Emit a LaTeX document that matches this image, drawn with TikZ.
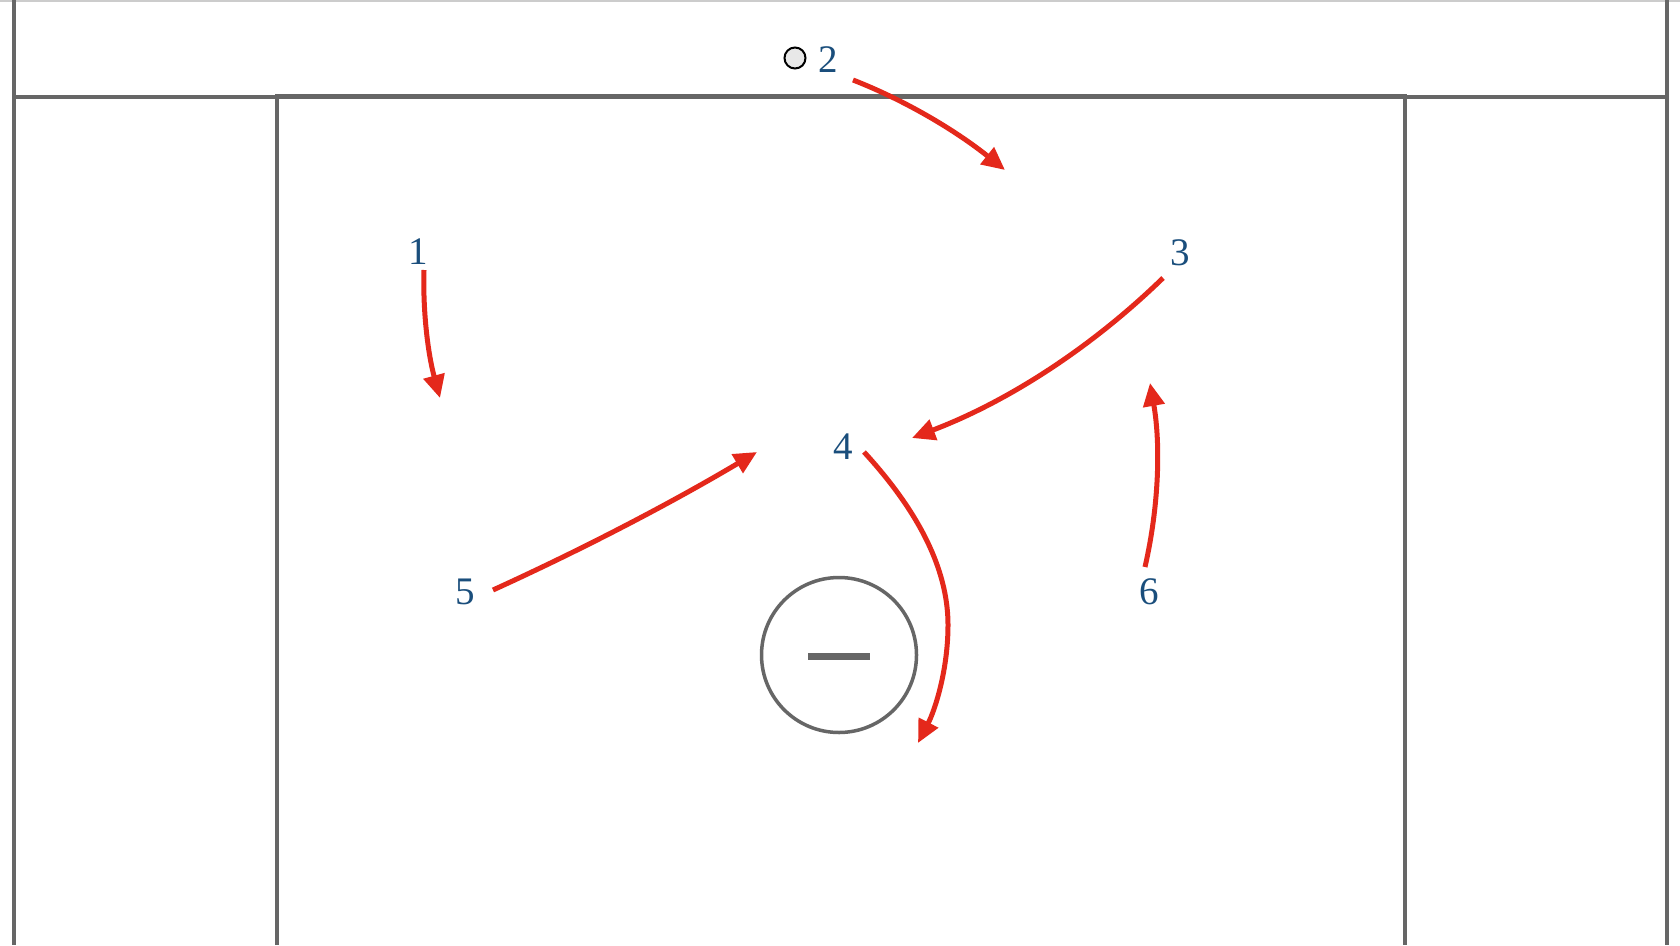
\documentclass[tikz,border=0pt]{standalone}
\usepackage{fontspec}
\setmainfont{Liberation Serif}
\usetikzlibrary{arrows.meta}
\definecolor{lab}{HTML}{1A4E7C}
\definecolor{arr}{HTML}{E4281B}
\definecolor{fld}{HTML}{666666}
\begin{document}
\begin{tikzpicture}[x=1pt,y=-1pt,
  fieldline/.style={draw=fld, line width=4pt},
  run/.style={draw=arr, line width=5pt, -{Triangle[length=23pt,width=21pt]}},
  lbl/.style={text=lab, inner sep=0pt, font=\fontsize{39}{41}\selectfont},
  ball/.style={circle, draw=black, fill=black!9, line width=2pt, minimum size=21pt, inner sep=0pt},
  crease/.style={circle, draw=fld, line width=3.5pt, minimum size=155pt, inner sep=0pt}]
\useasboundingbox (0,0) rectangle (1680,945);
\fill[white] (0,0) rectangle (1680,945);
\draw[black!20, line width=1.5pt] (0,0.75) -- (1680,0.75);
% field lines
\draw[fieldline] (14,0) -- (14,945);
\draw[fieldline] (1667,0) -- (1667,945);
\draw[fieldline] (14,97) -- (1667,97);
\draw[fieldline] (276.5,945) -- (276.5,95.5) -- (1404.5,95.5) -- (1404.5,945);
% goal crease
\node[crease] (goal) at (839,655) {};
\fill[fld] (808,652.5) rectangle (870,659.5);
% ball and players
\node[ball] (ball) at (795,58) {};
\node[lbl] (p1) at (418,252) {1};
\node[lbl] (p2) at (828,60) {2};
\node[lbl] (p3) at (1180,253) {3};
\node[lbl] (p4) at (843,447) {4};
\node[lbl] (p5) at (465,592) {5};
\node[lbl] (p6) at (1149,592) {6};
% arrow end points
\coordinate (s1) at (424,270); \coordinate (e1) at (440,398);
\coordinate (s2) at (853,80);  \coordinate (e2) at (1005,170);
\coordinate (s3) at (1163,278); \coordinate (e3) at (912,438);
\coordinate (s4) at (864,452); \coordinate (e4) at (918,743);
\coordinate (s5) at (493,590); \coordinate (e5) at (757,452);
\coordinate (s6) at (1145,567); \coordinate (e6) at (1150,383);
% runs
\draw[run] (s1) .. controls (422.7,311.3) and (428,354) .. (e1);
\draw[run] (s2) .. controls (904.3,100) and (955,130) .. (e2);
\draw[run] (s3) .. controls (1090.3,348.7) and (1006.7,402) .. (e3);
\draw[run] (s4) .. controls (908,500) and (948,560) .. (948,625) .. controls (948,670) and (935,710) .. (e4);
\draw[run] (s5) .. controls (583.7,548.7) and (671.7,502.7) .. (e5);
\draw[run] (s6) .. controls (1159,505.7) and (1160.7,444.3) .. (e6);
\end{tikzpicture}
\end{document}
